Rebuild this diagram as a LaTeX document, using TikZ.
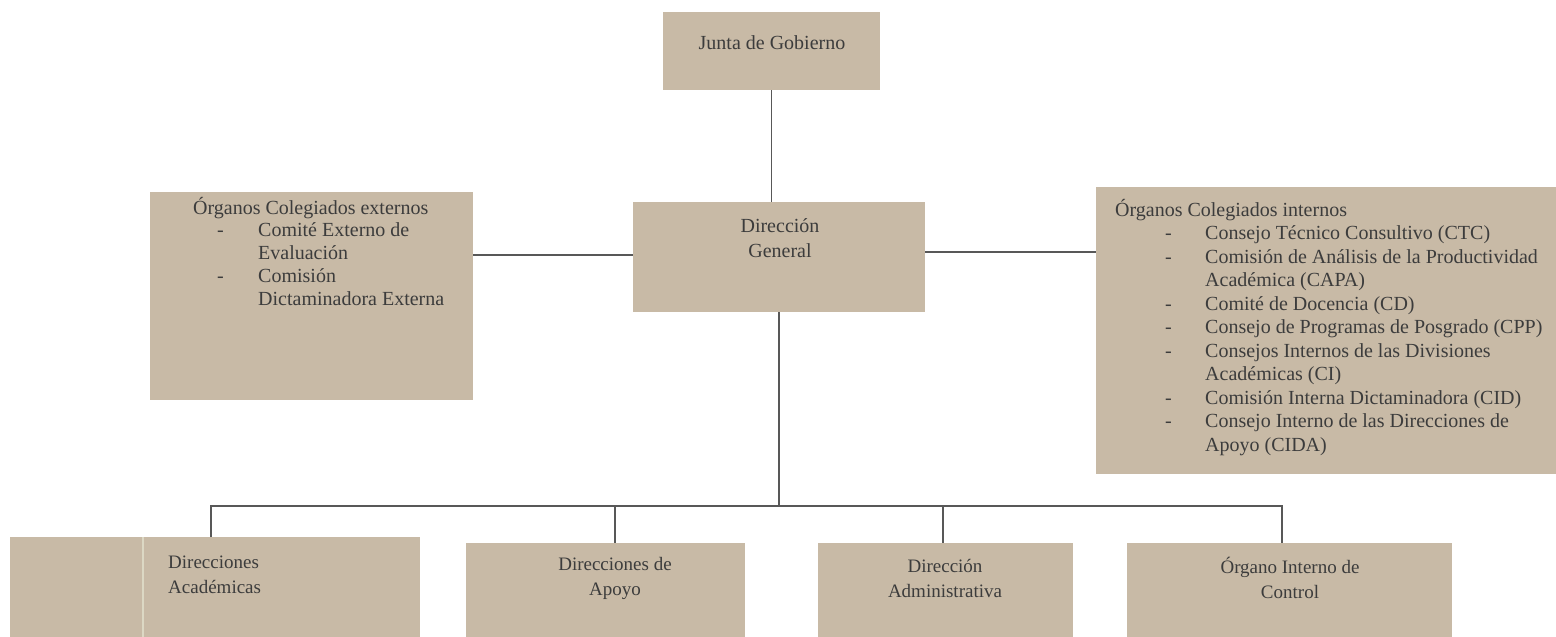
\documentclass[tikz,border=0pt]{standalone}
\usepackage{fontspec}
\setmainfont{Liberation Serif}
\definecolor{boxfill}{HTML}{C8BAA6}
\definecolor{txtcol}{HTML}{3C3C3C}
\definecolor{linecol}{HTML}{585858}
\definecolor{stripe}{HTML}{DCD8C4}
\begin{document}
\begin{tikzpicture}[x=1pt,y=-1pt,
  box/.style={draw=none, fill=boxfill, inner sep=0pt, outer sep=0pt, anchor=north west},
  lbl/.style={text=txtcol, font=\fontsize{20}{25}\selectfont, align=center, inner sep=0pt},
  small/.style={lbl, font=\fontsize{19}{25}\selectfont},
  conn/.style={draw=linecol, line width=1.5pt}]
\useasboundingbox (0,0) rectangle (1556,637);
% boxes
\node[box, minimum width=217pt, minimum height=78pt] (junta) at (663,12) {};
\node[box, minimum width=292pt, minimum height=110pt] (dg) at (633,202) {};
\node[box, minimum width=323pt, minimum height=208pt] (lbox) at (150,192) {};
\node[box, minimum width=460pt, minimum height=287pt] (rbox) at (1096,187) {};
\node[box, minimum width=410pt, minimum height=100pt] (b1) at (10,537) {};
\node[box, minimum width=279pt, minimum height=94pt] (b2) at (466,543) {};
\node[box, minimum width=255pt, minimum height=94pt] (b3) at (818,543) {};
\node[box, minimum width=325pt, minimum height=94pt] (b4) at (1127,543) {};
\draw[stripe, line width=2pt] (143,537) -- (143,637);
% texts
\node[lbl] (juntatxt) at (772,43) {Junta de Gobierno};
\node[lbl] (dgtxt) at (780,238) {Dirección\\General};
\node[lbl, font=\fontsize{20}{22.75}\selectfont, anchor=base west] (ltxt) at (193,214) {\begin{tabular}[t]{@{}l@{}}
Órganos Colegiados externos\\
\hspace*{24pt}\makebox[41pt][l]{-}Comité Externo de\\
\hspace*{65pt}Evaluación\\
\hspace*{24pt}\makebox[41pt][l]{-}Comisión\\
\hspace*{65pt}Dictaminadora Externa
\end{tabular}};
\node[lbl, font=\fontsize{20}{23.5}\selectfont, anchor=base west] (rtxt) at (1115,216) {\begin{tabular}[t]{@{}l@{}}
Órganos Colegiados internos\\
\hspace*{50pt}\makebox[40pt][l]{-}Consejo Técnico Consultivo (CTC)\\
\hspace*{50pt}\makebox[40pt][l]{-}Comisión de Análisis de la Productividad\\
\hspace*{90pt}Académica (CAPA)\\
\hspace*{50pt}\makebox[40pt][l]{-}Comité de Docencia (CD)\\
\hspace*{50pt}\makebox[40pt][l]{-}Consejo de Programas de Posgrado (CPP)\\
\hspace*{50pt}\makebox[40pt][l]{-}Consejos Internos de las Divisiones\\
\hspace*{90pt}Académicas (CI)\\
\hspace*{50pt}\makebox[40pt][l]{-}Comisión Interna Dictaminadora (CID)\\
\hspace*{50pt}\makebox[40pt][l]{-}Consejo Interno de las Direcciones de\\
\hspace*{90pt}Apoyo (CIDA)
\end{tabular}};
\node[small, anchor=west, align=left] (b1txt) at (168,575) {Direcciones\\Académicas};
\node[small] (b2txt) at (615,578) {Direcciones de\\Apoyo};
\node[small] (b3txt) at (945,578) {Dirección\\Administrativa};
\node[small] (b4txt) at (1290,578) {Órgano Interno de\\Control};
% connectors
\coordinate (busL) at (211,506);
\coordinate (busR) at (1282,506);
\coordinate (d2) at (615,506);
\coordinate (d3) at (943,506);
\coordinate (dgl) at (633,255);
\coordinate (dgr) at (925,252);
\draw[conn] (junta.south) -- (junta.south |- dg.north);
\draw[conn] (lbox.east |- dgl) -- (dgl);
\draw[conn] (dgr) -- (rbox.west |- dgr);
\draw[conn] (dg.south) -- (dg.south |- busL);
\draw[conn] (b1.north -| busL) -- (busL) -- (busR) -- (b4.north -| busR);
\draw[conn] (d2) -- (b2.north -| d2);
\draw[conn] (d3) -- (b3.north -| d3);
\end{tikzpicture}
\end{document}
